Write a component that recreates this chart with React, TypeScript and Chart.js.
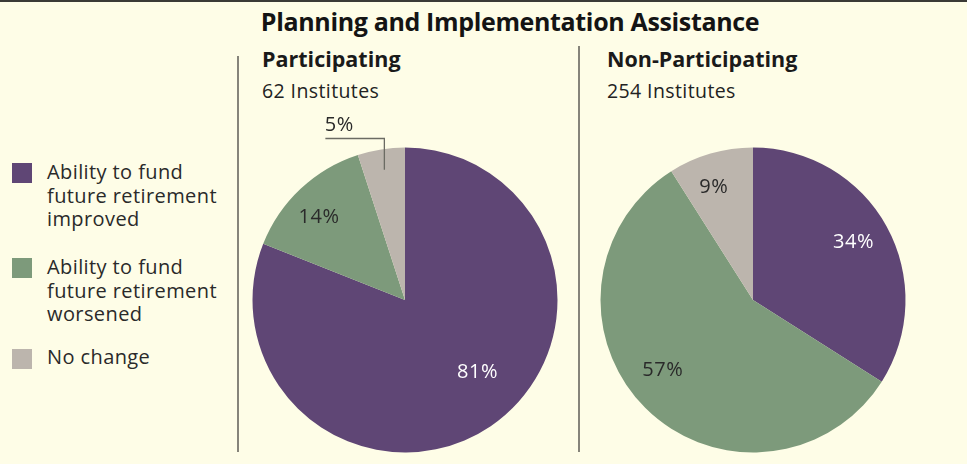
import React, { useEffect, useRef } from "react";
import { Chart, registerables } from "chart.js";

Chart.register(...registerables);

const categories = [
  "Ability to fund future retirement improved",
  "Ability to fund future retirement worsened",
  "No change",
];
const legendLines = [
  ["Ability to fund", "future retirement", "improved"],
  ["Ability to fund", "future retirement", "worsened"],
  ["No change"],
];
const participatingValues = [81, 14, 5];
const nonParticipatingValues = [34, 57, 9];
const groupTitles = ["Participating", "Non-Participating"];
const groupCounts = ["62 Institutes", "254 Institutes"];
const chartTitle = "Planning and Implementation Assistance";

const COLORS = ["#5f4675", "#7d9a7b", "#bcb5ad"];
const LABEL_COLORS = ["#ffffff", "#2a2a2a", "#2a2a2a"];
const BG = "#fefde7";
const FONT = "'Open Sans', 'Noto Sans', sans-serif";

// label placement: radius fraction, angle shift (deg), outside-with-leader flag
type LabelOpt = { r: number; shift: number; leader?: boolean };
const leftLabelOpts: LabelOpt[] = [
  { r: 0.67, shift: -11 },
  { r: 0.78, shift: -3 },
  { r: 0.865, shift: 0, leader: true },
];
const rightLabelOpts: LabelOpt[] = [
  { r: 0.76, shift: -1 },
  { r: 0.75, shift: 7 },
  { r: 0.78, shift: -3 },
];

const CANVAS = 400;
const RADIUS = 152.5;

function makeLabelPlugin(values: number[], opts: LabelOpt[]) {
  return {
    id: "sliceLabels",
    afterDatasetsDraw(chart: any) {
      const ctx = chart.ctx;
      const meta = chart.getDatasetMeta(0);
      ctx.save();
      ctx.font = `20px ${FONT}`;
      try {
        (ctx as any).letterSpacing = "0.6px";
      } catch (e) {}
      ctx.textAlign = "center";
      ctx.textBaseline = "middle";
      meta.data.forEach((arc: any, i: number) => {
        const o = opts[i];
        const mid = (arc.startAngle + arc.endAngle) / 2 + (o.shift * Math.PI) / 180;
        const r = arc.outerRadius * o.r;
        const x = arc.x + Math.cos(mid) * r;
        const y = arc.y + Math.sin(mid) * r;
        const text = values[i] + "%";
        if (o.leader) {
          const elbowY = arc.y - arc.outerRadius - 9;
          const endX = x - 59;
          ctx.strokeStyle = "#6b6b63";
          ctx.lineWidth = 1.3;
          ctx.beginPath();
          ctx.moveTo(x, y);
          ctx.lineTo(x, elbowY);
          ctx.lineTo(endX, elbowY);
          ctx.stroke();
          ctx.fillStyle = "#2a2a2a";
          ctx.fillText(text, endX + 14, elbowY - 13);
        } else {
          ctx.fillStyle = LABEL_COLORS[i];
          ctx.fillText(text, x, y);
        }
      });
      ctx.restore();
    },
  };
}

function Pie({ values, opts, left, top }: { values: number[]; opts: LabelOpt[]; left: number; top: number }) {
  const ref = useRef<HTMLCanvasElement | null>(null);
  useEffect(() => {
    if (!ref.current) return;
    const chart = new Chart(ref.current, {
      type: "pie",
      data: {
        labels: categories,
        datasets: [
          {
            data: values,
            backgroundColor: COLORS,
            borderWidth: 0,
          },
        ],
      },
      options: {
        responsive: false,
        animation: false,
        radius: RADIUS,
        layout: { padding: 0 },
        plugins: { legend: { display: false }, tooltip: { enabled: false } },
      } as any,
      plugins: [makeLabelPlugin(values, opts)],
    });
    return () => chart.destroy();
  }, []);
  return (
    <canvas
      ref={ref}
      width={CANVAS}
      height={CANVAS}
      style={{ position: "absolute", left, top, width: CANVAS, height: CANVAS }}
    />
  );
}

export default function App() {
  const textColor = "#1e1e1e";
  return (
    <div
      style={{
        position: "fixed",
        left: 0,
        top: 0,
        width: 967,
        height: 464,
        background: BG,
        overflow: "hidden",
        fontFamily: FONT,
        color: textColor,
      }}
    >
      <div style={{ position: "absolute", left: 0, top: 0, width: 967, height: 2, background: "#3a3a36" }} />
      <div
        style={{
          position: "absolute",
          left: 0,
          width: 1020,
          top: 5,
          textAlign: "center",
          fontWeight: 700,
          fontSize: 25,
          letterSpacing: -0.35,
          lineHeight: "32px",
          color: "#141414",
        }}
      >
        {chartTitle}
      </div>
      <div style={{ position: "absolute", left: 237, top: 56, width: 2, height: 396, background: "#86847a" }} />
      <div style={{ position: "absolute", left: 578, top: 46, width: 2, height: 406, background: "#86847a" }} />

      {[262, 607].map((x, i) => (
        <React.Fragment key={i}>
          <div
            style={{
              position: "absolute",
              left: x,
              top: 44,
              fontWeight: 700,
              fontSize: 21.5,
              lineHeight: "30px",
              color: "#1a1a1a",
            }}
          >
            {groupTitles[i]}
          </div>
          <div
            style={{
              position: "absolute",
              left: x,
              top: 77,
              fontSize: 19.5,
              letterSpacing: 0.4,
              lineHeight: "28px",
              color: "#222",
            }}
          >
            {groupCounts[i]}
          </div>
        </React.Fragment>
      ))}

      {legendLines.map((lines, i) => {
        const tops = [160, 255, 345];
        return (
          <React.Fragment key={i}>
            <div
              style={{
                position: "absolute",
                left: 12,
                top: [163, 258, 349][i],
                width: 20,
                height: 20,
                background: COLORS[i],
              }}
            />
            <div
              style={{
                position: "absolute",
                left: 47,
                top: tops[i],
                fontSize: 20,
                letterSpacing: 0.4,
                lineHeight: "23.5px",
                color: "#2a2a2a",
                whiteSpace: "nowrap",
              }}
            >
              {lines.map((l, k) => (
                <div key={k}>{l}</div>
              ))}
            </div>
          </React.Fragment>
        );
      })}

      <Pie values={participatingValues} opts={leftLabelOpts} left={405 - CANVAS / 2} top={300 - CANVAS / 2} />
      <Pie values={nonParticipatingValues} opts={rightLabelOpts} left={752.5 - CANVAS / 2} top={300 - CANVAS / 2} />
    </div>
  );
}
